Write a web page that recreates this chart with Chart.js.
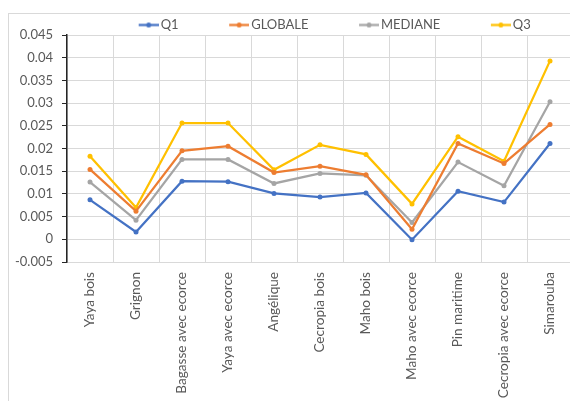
<!DOCTYPE html>
<html>
<head>
<meta charset="utf-8">
<script src="https://cdn.jsdelivr.net/npm/chart.js@4.4.1/dist/chart.umd.min.js"></script>
<style>
  html, body { margin: 0; padding: 0; background: #fff; overflow: hidden; width: 570px; height: 401px; }
  .cadre { position: absolute; left: 8px; top: 13px; width: 700px; height: 500px; border: 1px solid #d9d9d9; box-sizing: border-box; }
  #graphe { position: absolute; left: 0; top: 0; }
</style>
</head>
<body>
<div class="cadre"></div>
<canvas id="graphe" width="580" height="430"></canvas>
<script>
// Essences et statistiques par essence
const essences = ['Yaya bois', 'Grignon', 'Bagasse avec ecorce', 'Yaya avec ecorce', 'Angélique',
  'Cecropia bois', 'Maho bois', 'Maho avec ecorce', 'Pin maritime', 'Cecropia avec ecorce', 'Simarouba'];
const q1      = [0.0087, 0.0016, 0.0128, 0.0127, 0.0101, 0.0093, 0.0102, -0.0001, 0.0106, 0.0082, 0.0211];
const globale = [0.0154, 0.0062, 0.0195, 0.0205, 0.0147, 0.0161, 0.0142, 0.0022, 0.0211, 0.0167, 0.0253];
const mediane = [0.0126, 0.0042, 0.0176, 0.0176, 0.0123, 0.0145, 0.0141, 0.0037, 0.0170, 0.0118, 0.0303];
const q3      = [0.0183, 0.0070, 0.0256, 0.0256, 0.0153, 0.0208, 0.0187, 0.0078, 0.0226, 0.0172, 0.0393];

const yMin = -0.005, yMax = 0.045, yPas = 0.005;

const police = { family: 'Lato, sans-serif', size: 13 };
const policeX = { family: 'Lato, sans-serif', size: 13.6 };
const gris = '#595959';

// petit trait + point pour la légende, façon Excel
function symbole(couleur) {
  const c = document.createElement('canvas');
  c.width = 23; c.height = 7;
  const ctx = c.getContext('2d');
  ctx.strokeStyle = couleur; ctx.lineWidth = 2.25;
  ctx.beginPath(); ctx.moveTo(3, 3.5); ctx.lineTo(23, 3.5); ctx.stroke();
  ctx.fillStyle = couleur;
  ctx.beginPath(); ctx.arc(13, 3.5, 2.5, 0, Math.PI * 2); ctx.fill();
  return c;
}

function serie(label, data, couleur) {
  return {
    label, data,
    borderColor: couleur, backgroundColor: couleur,
    borderWidth: 2.25,
    pointRadius: 2.5, pointBorderWidth: 0,
    pointBackgroundColor: couleur,
    pointStyle: 'circle',
    tension: 0
  };
}

// hauteur fixe pour la légende, puis on la recentre au-dessus du tracé
const placeLegende = {
  id: 'placeLegende',
  beforeLayout(chart) {
    const l = chart.legend;
    if (l && !l._hauteurFixe) {
      const fit = l.fit;
      l.fit = function () { fit.call(this); this.height = 35; };
      l._hauteurFixe = true;
    }
  },
  afterLayout(chart) {
    const l = chart.legend;
    const dx = 49;
    l.left += dx; l.right += dx;
    l.top = 25 - l.options.labels.padding - police.size / 2;
  }
};

const symboles = [symbole('#4472c4'), symbole('#ed7d31'), symbole('#a5a5a5'), symbole('#ffc000')];

new Chart(document.getElementById('graphe'), {
  type: 'line',
  data: {
    labels: essences,
    datasets: [
      serie('Q1', q1, '#4472c4'),
      serie('GLOBALE', globale, '#ed7d31'),
      serie('MEDIANE', mediane, '#a5a5a5'),
      serie('Q3', q3, '#ffc000')
    ]
  },
  options: {
    responsive: false,
    animation: false,
    layout: { padding: { top: 0, right: 7, left: 0, bottom: 0 } },
    plugins: {
      tooltip: { enabled: false },
      legend: {
        position: 'top',
        labels: {
          usePointStyle: true,
          pointStyleWidth: 14,
          padding: 52,
          color: gris,
          font: police,
          generateLabels(chart) {
            return chart.data.datasets.map((ds, i) => ({
              text: ds.label,
              pointStyle: symboles[i],
              fillStyle: ds.borderColor,
              strokeStyle: ds.borderColor,
              lineWidth: 0,
              fontColor: gris,
              datasetIndex: i,
              hidden: false
            }));
          }
        }
      }
    },
    scales: {
      x: {
        offset: true,
        grid: { offset: true, color: '#d9d9d9', lineWidth: 1, drawTicks: false },
        border: { display: false },
        ticks: {
          autoSkip: false, minRotation: 90, maxRotation: 90,
          padding: 10, color: gris, font: policeX
        },
        afterFit(scale) { scale.height = 430 - 262; }
      },
      y: {
        min: yMin, max: yMax,
        grid: { color: '#d9d9d9', lineWidth: 1, tickLength: 5, tickColor: '#262626' },
        border: { color: '#262626', width: 1.5 },
        ticks: {
          stepSize: yPas, padding: 9, color: gris, font: police,
          callback: v => String(+v.toFixed(3))
        },
        afterFit(scale) { scale.width = 67; }
      }
    }
  },
  plugins: [placeLegende]
});
</script>
</body>
</html>
